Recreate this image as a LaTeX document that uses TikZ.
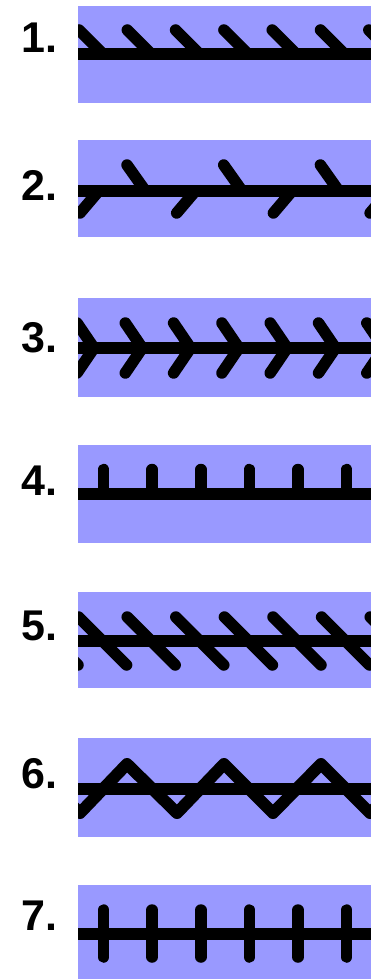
\documentclass[tikz,border=0pt]{standalone}
\usepackage{fontspec}
\setmainfont{Liberation Sans}
\definecolor{bandblue}{RGB}{153,153,255}
\begin{document}
\begin{tikzpicture}[x=1pt,y=-1pt,
  band/.style={fill=bandblue,draw=none},
  mainline/.style={line width=12pt,line cap=butt},
  barb/.style={line width=11.5pt,line cap=round},
  zig/.style={line width=12pt,line join=round,line cap=round},
  numlabel/.style={anchor=base east,inner sep=0pt,font=\bfseries\fontsize{43}{43}\selectfont}]
\useasboundingbox (0,0) rectangle (371,979);

% 1: barbs leaning back, above the line
\fill[band] (78,6) rectangle (371,103);
\node[numlabel] (n1) at (58,53) {1.};
\begin{scope}
  \clip (78,6) rectangle (371,103);
  \draw[mainline] (78,54.5) -- (371,54.5);
  \foreach \i in {0,...,6} \draw[barb] ({79+48.3*\i},30) -- ({101+48.3*\i},52);
\end{scope}

% 2: alternating half-chevrons
\fill[band] (78,140) rectangle (371,237);
\node[numlabel] (n2) at (58,200) {2.};
\begin{scope}
  \clip (78,140) rectangle (371,237);
  \draw[mainline] (78,191) -- (371,191);
  \foreach \i in {0,...,2} \draw[barb] ({127+96.7*\i},165) -- ({144+96.7*\i},189);
  \foreach \i in {0,...,3} \draw[barb] ({80+96.7*\i},213) -- ({97+96.7*\i},193);
\end{scope}

% 3: chevrons
\fill[band] (78,298) rectangle (371,397);
\node[numlabel] (n3) at (58,352) {3.};
\begin{scope}
  \clip (78,298) rectangle (371,397);
  \draw[mainline] (78,348) -- (371,348);
  \foreach \i in {0,...,6}
    \draw[barb,line join=round] ({77+48.3*\i},323) -- ({94+48.3*\i},348) -- ({77+48.3*\i},373);
\end{scope}

% 4: short upright ticks
\fill[band] (78,445) rectangle (371,543);
\node[numlabel] (n4) at (58,495) {4.};
\begin{scope}
  \clip (78,445) rectangle (371,543);
  \draw[mainline] (78,494) -- (371,494);
  \foreach \i in {0,...,5} \draw[barb] ({103.6+48.6*\i},469.5) -- ({103.6+48.6*\i},494);
\end{scope}

% 5: slashes through the line
\fill[band] (78,592) rectangle (371,688);
\node[numlabel] (n5) at (58,640) {5.};
\begin{scope}
  \clip (78,592) rectangle (371,688);
  \draw[mainline] (78,641) -- (371,641);
  \foreach \i in {0,...,7} \draw[barb] ({30+48.6*\i},617) -- ({78+48.6*\i},665);
\end{scope}

% 6: zigzag over the line
\fill[band] (78,738) rectangle (371,837);
\node[numlabel] (n6) at (58,788) {6.};
\begin{scope}
  \clip (78,738) rectangle (371,837);
  \draw[mainline] (78,789) -- (371,789);
  \draw[zig] (31,764) -- (80,813) -- (127,764) -- (177,813) -- (224,764)
    -- (273,813) -- (321,764) -- (370,813) -- (419,764);
\end{scope}

% 7: full crossing ticks
\fill[band] (78,885) rectangle (371,979);
\node[numlabel] (n7) at (58,930) {7.};
\begin{scope}
  \clip (78,885) rectangle (371,979);
  \draw[mainline] (78,934) -- (371,934);
  \foreach \i in {0,...,5} \draw[barb] ({103.6+48.6*\i},910) -- ({103.6+48.6*\i},957);
\end{scope}
\end{tikzpicture}
\end{document}
